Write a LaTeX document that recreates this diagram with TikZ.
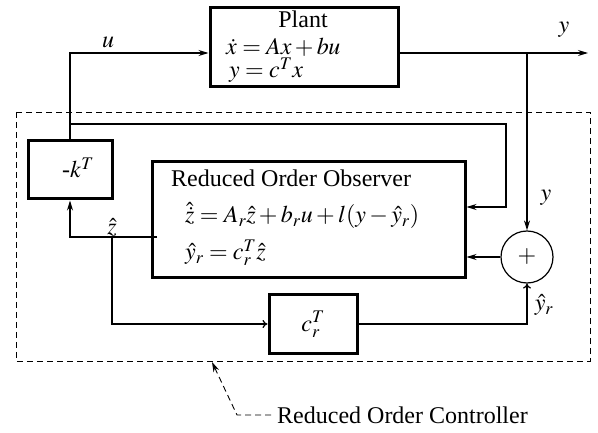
\documentclass[tikz,border=0pt]{standalone}
\usepackage{mathptmx}
\usepackage[no-math]{fontspec}
\setmainfont{Liberation Serif}
\usetikzlibrary{arrows.meta}
\begin{document}
\begin{tikzpicture}[x=1pt,y=-1pt,
  font=\fontsize{24}{28}\selectfont,
  blk/.style={draw,line width=3pt,rectangle,inner sep=0pt},
  wire/.style={line width=1.2pt},
  arr/.style={wire,-{Stealth[length=10pt,width=6pt]}},
  tarr/.style={wire,-{To[length=5pt,width=8pt]}},
  lbl/.style={inner sep=0pt,anchor=base west},
  ctrl/.style={line width=0.9pt,dash pattern=on 6pt off 4pt}]
\useasboundingbox (0,0) rectangle (598,433);
% dashed controller boundary
\draw[ctrl] (16,112) rectangle (590,361);
% blocks
\node[blk,minimum width=188pt,minimum height=79pt] (plant) at (304,47.5) {};
\node[lbl,anchor=base] at (303,28) {Plant};
\node[lbl] at (226,55) {$\dot{x}=Ax+bu$};
\node[lbl] at (229,78) {$y=c^{T}x$};
\node[blk,minimum width=84pt,minimum height=58pt] (kT) at (70,170) {};
\node[lbl] at (62,178) {-$k^{T}$};
\node[blk,minimum width=313pt,minimum height=116pt] (obs) at (308.5,220) {};
\node[lbl] at (171,187) {Reduced Order Observer};
\node[lbl] at (185,223) {$\hat{\dot{z}}=A_r\hat{z}+b_ru+l(y-\hat{y}_r)$};
\node[lbl] at (185,260) {$\hat{y}_r=c_r^{T}\hat{z}$};
\node[blk,minimum width=88pt,minimum height=58pt] (cr) at (313,324) {};
\node at (313,324) {$c_r^{T}$};
\node[draw,wire,circle,minimum size=52pt,inner sep=0pt] (sum) at (527,257) {$+$};
% coordinates
\coordinate (ucorner) at (70,53);
\coordinate (ubr) at (70,124);
\coordinate (fbr) at (506,124);
\coordinate (fin) at (506,207);
\coordinate (ybr) at (527,53);
\coordinate (yend) at (588,53);
\coordinate (zs) at (157,237);
\coordinate (zc) at (70,237);
\coordinate (zbr) at (112,237);
\coordinate (zdn) at (112,324);
\coordinate (ycr) at (527,324);
% connectors
\draw[arr] (kT.north) -- (ucorner) -- (plant.west |- ucorner);
\draw[arr] (ubr) -- (fbr) -- (fin) -- (obs.east |- fin);
\draw[arr] (plant.east |- ybr) -- (yend);
\draw[arr] (ybr) -- (sum.north);
\draw[arr] (sum.west) -- (obs.east |- sum.west);
\draw[tarr] (cr.east) -- (ycr) -- (sum.south);
\draw[arr] (zs) -- (zc) -- (kT.south);
\draw[tarr] (zbr) -- (zdn) -- (cr.west);
% labels
\node at (108,42) {$u$};
\node at (564,30) {$y$};
\node at (546,198) {$y$};
\node at (544,305) {$\hat{y}_r$};
\node at (112,227) {$\hat{z}$};
% leader
\coordinate (lead) at (212,362);
\coordinate (leadk) at (237,415);
\coordinate (leade) at (271,415);
\draw[ctrl,-{Stealth[length=10pt,width=6pt]}] (leade) -- (leadk) -- (lead);
\node[lbl] (rc) at (277,423) {Reduced Order Controller};
\end{tikzpicture}
\end{document}
